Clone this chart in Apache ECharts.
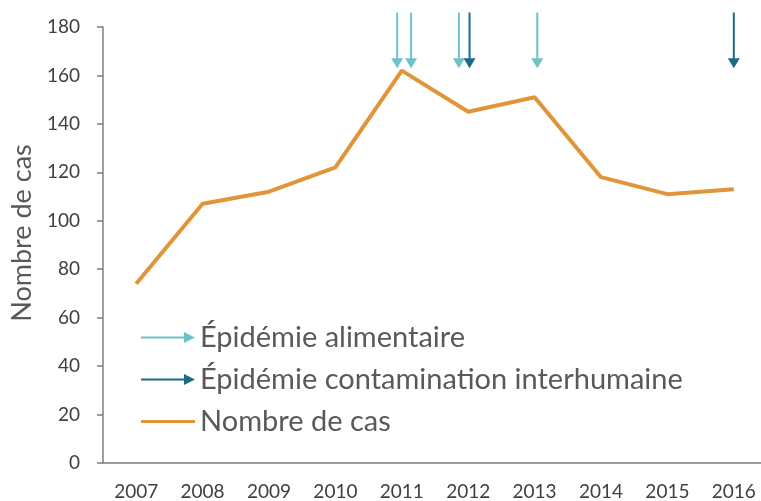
<!DOCTYPE html>
<html>
<head>
<meta charset="utf-8">
<script src="https://cdn.jsdelivr.net/npm/echarts@6/dist/echarts.min.js"></script>
<style>
  html, body { margin: 0; padding: 0; background: #fff; }
  #main { width: 761px; height: 501px; }
</style>
</head>
<body>
<div id="main"></div>
<script>
var years = ['2007', '2008', '2009', '2010', '2011', '2012', '2013', '2014', '2015', '2016'];
var cases = [74, 107, 112, 122, 162, 145, 151, 118, 111, 113];
// arrow positions on the year scale (0 = 2007), fractional where the arrow sits off-centre
var foodOutbreaks = [3.93, 4.14, 4.86, 6.04];
var humanOutbreaks = [5.02, 9.0];
var arrowTop = 186;
var arrowTip = 163;

var lightTeal = '#6cc4c9';
var darkTeal = '#1c6b84';
var orange = '#e0953a';
var arrowIcon = 'path://M0,4.5 H45 V6.5 H0 Z M43,0 L54,5.5 L43,11 Z';

function arrowData(xs) {
    return xs.map(function (x) { return [x, arrowTop, arrowTip]; });
}

// vertical arrow: shaft from top value down to the tip value, triangular head
function renderArrow(params, api) {
    var top = api.coord([api.value(0), api.value(1)]);
    var tip = api.coord([api.value(0), api.value(2)]);
    var color = api.visual('color');
    var headH = 10, headW = 6;
    return {
        type: 'group',
        children: [
            {
                type: 'line',
                shape: { x1: top[0], y1: top[1], x2: tip[0], y2: tip[1] - headH + 1 },
                style: { stroke: color, lineWidth: 2 }
            },
            {
                type: 'polygon',
                shape: { points: [[tip[0] - headW, tip[1] - headH], [tip[0] + headW, tip[1] - headH], [tip[0], tip[1]]] },
                style: { fill: color }
            }
        ]
    };
}

var myChart = echarts.init(document.getElementById('main'));

var option = {
    backgroundColor: '#fff',
    animation: false,
    textStyle: { fontFamily: 'Lato' },
    grid: {
        left: 103,
        right: -6,
        top: 27,
        bottom: 38,
        outerBoundsMode: 'none'
    },
    legend: {
        orient: 'vertical',
        left: 136,
        top: 318,
        itemWidth: 54,
        itemHeight: 11,
        itemGap: 13,
        selectedMode: false,
        textStyle: { color: '#595959', fontSize: 29, fontFamily: 'Lato' },
        data: [
            { name: 'Épidémie alimentaire', icon: arrowIcon },
            { name: 'Épidémie contamination interhumaine', icon: arrowIcon },
            { name: 'Nombre de cas', icon: 'path://M0,0 H54 V3 H0 Z' }
        ]
    },
    xAxis: [
        {
            type: 'category',
            data: years,
            boundaryGap: true,
            axisLine: { lineStyle: { color: '#7f7f7f', width: 1.5 } },
            axisTick: { length: 7, lineStyle: { color: '#7f7f7f', width: 1.5 } },
            axisLabel: { color: '#404040', fontSize: 19, margin: 19 }
        },
        {
            type: 'value',
            min: -0.5,
            max: 9.5,
            show: false
        }
    ],
    yAxis: {
        type: 'value',
        min: 0,
        max: 180,
        interval: 20,
        name: 'Nombre de cas',
        nameLocation: 'middle',
        nameGap: 55,
        nameTextStyle: { color: '#595959', fontSize: 27, padding: [0, 0, 0, 24] },
        splitLine: { show: false },
        axisLine: { show: true, onZero: false, lineStyle: { color: '#7f7f7f', width: 1.5 } },
        axisTick: { show: true, length: 6, lineStyle: { color: '#7f7f7f', width: 1.5 } },
        axisLabel: { color: '#404040', fontSize: 19, margin: 23 }
    },
    series: [
        {
            name: 'Épidémie alimentaire',
            type: 'custom',
            xAxisIndex: 1,
            clip: false,
            silent: true,
            itemStyle: { color: lightTeal },
            renderItem: renderArrow,
            encode: { x: 0, y: [1, 2] },
            data: arrowData(foodOutbreaks)
        },
        {
            name: 'Épidémie contamination interhumaine',
            type: 'custom',
            xAxisIndex: 1,
            clip: false,
            silent: true,
            itemStyle: { color: darkTeal },
            renderItem: renderArrow,
            encode: { x: 0, y: [1, 2] },
            data: arrowData(humanOutbreaks)
        },
        {
            name: 'Nombre de cas',
            type: 'line',
            data: cases,
            symbol: 'none',
            itemStyle: { color: orange },
            lineStyle: { color: orange, width: 4 }
        }
    ]
};
myChart.setOption(option);
</script>
</body>
</html>
